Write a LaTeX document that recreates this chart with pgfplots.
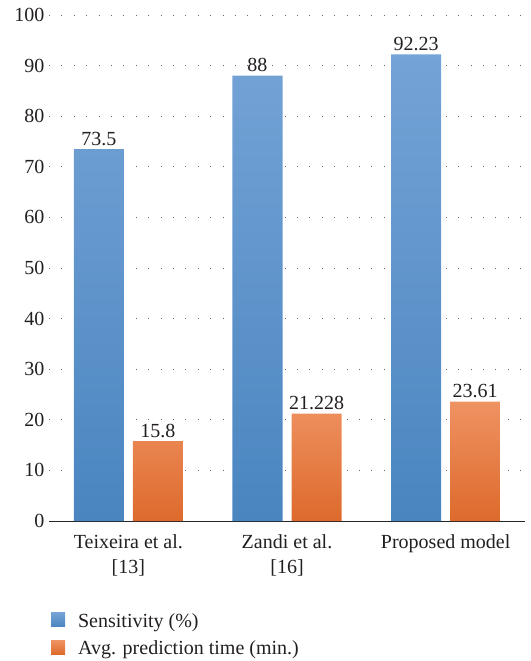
\documentclass[border=0pt]{standalone}
\usepackage{fontspec}
\setmainfont{Liberation Serif}
\usepackage{pgfplots}
\pgfplotsset{compat=1.18}
\definecolor{bluetop}{HTML}{74A3D6}
\definecolor{bluebot}{HTML}{4A85C0}
\definecolor{orgtop}{HTML}{EF9262}
\definecolor{orgbot}{HTML}{DD6A2C}
\definecolor{txt}{HTML}{231F20}
\begin{document}
\begin{tikzpicture}
\useasboundingbox (-49pt,-140pt) rectangle (481pt,521pt);
\begin{axis}[
  name=ax, scale only axis, width=476pt, height=506pt,
  anchor=south west, at={(0pt,0pt)},
  ybar=9pt, bar width=50pt,
  xmin=-0.5, xmax=2.5, ymin=0, ymax=100,
  ytick={0,10,...,100},
  xtick={0,1,2},
  xticklabels={{Teixeira et al.\\{[}13{]}},{Zandi et al.\\{[}16{]}},{Proposed model}},
  x tick label style={align=center, font=\fontsize{20}{25}\selectfont, text=txt, anchor=north, yshift=-10pt},
  y tick label style={font=\fontsize{20}{22}\selectfont, text=txt, xshift=-1pt},
  /pgf/number format/assume math mode=true,
  /pgf/number format/precision=3,
  major tick length=0pt,
  axis x line*=bottom, axis y line*=left,
  y axis line style={draw=none},
  x axis line style={draw=black!85, line width=0.9pt},
  ymajorgrids,
  grid style={draw=black!60, line width=0.9pt, dash pattern=on 0.9pt off 11.5pt},
  nodes near coords,
  nodes near coords style={font=\fontsize{20}{22}\selectfont, text=txt, yshift=0pt},
  legend style={at={(0.004,-0.178)}, anchor=north west, draw=none, fill=none,
    font=\fontsize{20}{22}\selectfont, text=txt, row sep=8pt, inner sep=0pt},
  legend cell align=left,
  legend image code/.code={\fill[#1] (0pt,-6pt) rectangle (14pt,8pt); \path (0pt,0pt) -- (25pt,0pt);},
  clip=false,
]
\addplot[draw=none, top color=bluetop, bottom color=bluebot] coordinates {(0,73.5) (1,88) (2,92.23)};
\addplot[draw=none, top color=orgtop, bottom color=orgbot] coordinates {(0,15.8) (1,21.228) (2,23.61)};
\legend{Sensitivity (\%), Avg. prediction time (min.)}
\end{axis}
\end{tikzpicture}
\end{document}
